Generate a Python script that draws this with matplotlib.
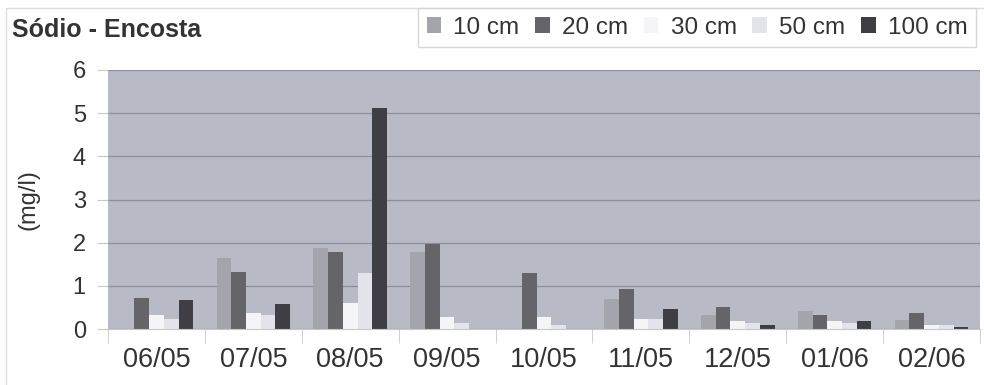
import numpy as np
import matplotlib
matplotlib.use("Agg")
import matplotlib.pyplot as plt
from matplotlib.patches import Rectangle

plt.rcParams['font.family'] = ['Liberation Sans', 'DejaVu Sans']

# dados
datas = ["06/05", "07/05", "08/05", "09/05", "10/05", "11/05", "12/05", "01/06", "02/06"]
prof = ["10 cm", "20 cm", "30 cm", "50 cm", "100 cm"]
v10 = [0.0, 1.64, 1.87, 1.78, 0.0, 0.69, 0.33, 0.42, 0.20]
v20 = [0.72, 1.31, 1.78, 1.96, 1.30, 0.93, 0.51, 0.32, 0.38]
v30 = [0.33, 0.37, 0.60, 0.27, 0.28, 0.23, 0.18, 0.19, 0.09]
v50 = [0.24, 0.33, 1.30, 0.13, 0.09, 0.23, 0.13, 0.14, 0.09]
v100 = [0.67, 0.57, 5.11, 0.0, 0.0, 0.47, 0.09, 0.19, 0.05]
cores = ["#a4a4ac", "#646469", "#f5f5f8", "#e3e4eb", "#3e3e44"]

fig = plt.figure(figsize=(9.84, 3.85), dpi=100)
ax = fig.add_axes([108/984, 56/385, 872/984, 259/385])
ax.set_facecolor("#b8bbc6")

x = np.arange(len(datas))
w = 0.152
series = [v10, v20, v30, v50, v100]
for i, (vals, c, nome) in enumerate(zip(series, cores, prof)):
    ax.bar(x + (i - 2) * w, vals, w, color=c, label=nome, linewidth=0)

ax.set_xlim(-0.5, len(datas) - 0.5)
ax.set_ylim(0, 6)
ax.set_yticks(range(0, 7))
ax.yaxis.grid(True, color="#8c8e99", linewidth=0.9)
ax.set_axisbelow(True)
for s in ["top", "right", "left"]:
    ax.spines[s].set_visible(False)
ax.spines["bottom"].set_color("#c8c8cc")

ax.set_xticks(x)
ax.set_xticklabels(datas, fontsize=19.5, color="#333333")
ax.set_xticks(np.arange(-0.5, len(datas)), minor=True)
ax.tick_params(axis="x", which="major", length=0, pad=13)
ax.tick_params(axis="x", which="minor", length=10, color="#c8c8cc")
ax.tick_params(axis="y", length=8, color="#c8c8cc", labelsize=17, labelcolor="#333333", pad=8)

ax.set_ylabel("(mg/l)", fontsize=17, color="#333333")
ax.yaxis.set_label_coords(-0.079, 0.5)

fig.text(12/984, 1 - 30/385, "Sódio - Encosta", fontsize=18, fontweight="bold",
         color="#333333", va="center", ha="left")

leg = fig.legend(loc="upper left", bbox_to_anchor=(418/984, 1 - 8/385), ncol=5,
                 fontsize=17.5, frameon=True, fancybox=False, handlelength=0.6,
                 handleheight=0.6, handletextpad=0.5, columnspacing=0.65,
                 borderpad=0.35, borderaxespad=0)
leg.get_frame().set_edgecolor("#cfcfd4")
leg.get_frame().set_linewidth(1.0)
for t in leg.get_texts():
    t.set_color("#333333")

# moldura clara do grafico
fig.patches.append(Rectangle((6/984, -0.01), 1.0, 1 - 8/385 + 0.01, transform=fig.transFigure,
                             fill=False, edgecolor="#dcdce0", linewidth=1.0))

fig.savefig("out.png", dpi=100)
